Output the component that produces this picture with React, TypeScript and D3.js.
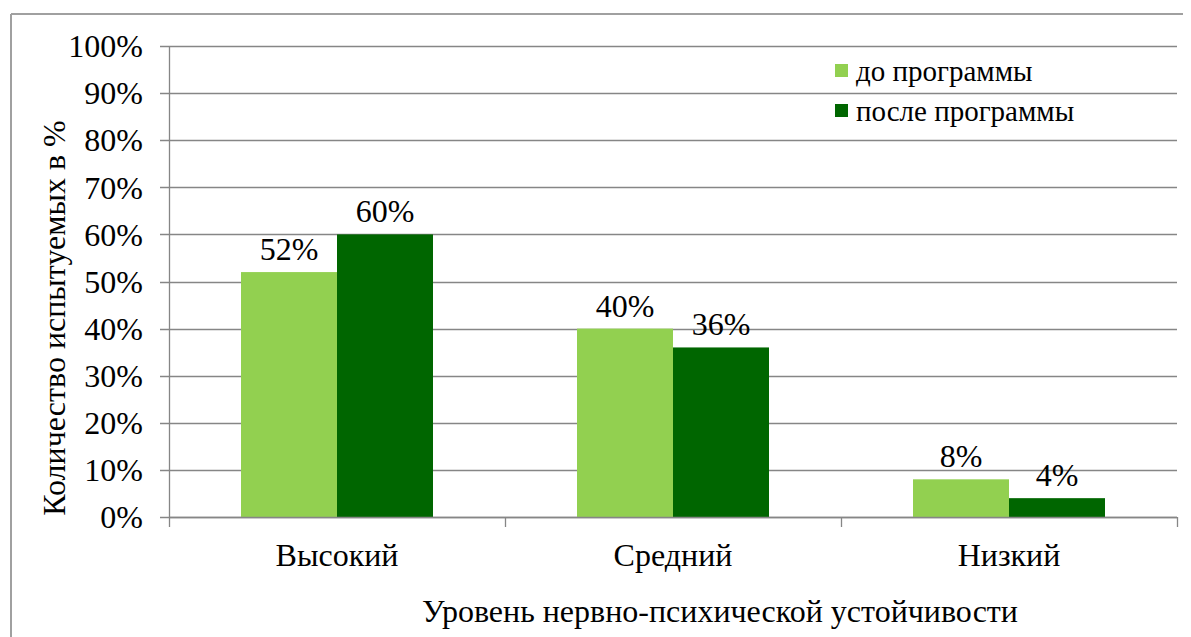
import React from "react";
import * as d3 from "d3";

const categories = ["Высокий", "Средний", "Низкий"];
const seriesNames = ["до программы", "после программы"];
const beforeValues = [52, 40, 8];
const afterValues = [60, 36, 4];
const yTicks = [0, 10, 20, 30, 40, 50, 60, 70, 80, 90, 100];
const colors = ["#92D050", "#006600"];
const yTitle = "Количество испытуемых в %";
const xTitle = "Уровень нервно-психической устойчивости";

const W = 1191;
const H = 637;

export default function App() {
  const left = 169, right = 1177, top = 46, bottom = 517;
  const x0 = d3.scaleBand<string>().domain(categories).range([left, right]).paddingInner(0).paddingOuter(0);
  const bw = x0.bandwidth();
  const inner = d3.scaleBand<string>().domain(seriesNames).range([0, bw]).paddingInner(0).paddingOuter(0.75);
  const y = d3.scaleLinear().domain([0, 100]).range([bottom, top]);
  const series = [beforeValues, afterValues];

  return (
    <svg width={W} height={H} fontFamily="serif" style={{ display: "block", margin: "-8px 0 0 -8px", background: "#fff" }}>
      <rect x={0} y={0} width={W} height={H} fill="#fff" />
      <line x1={11} y1={14} x2={W} y2={14} stroke="#a0a0a0" strokeWidth={2} />
      <line x1={11} y1={14} x2={11} y2={H} stroke="#a0a0a0" strokeWidth={2} />

      {yTicks.map((t) => (
        <g key={t}>
          <line x1={left - 9} x2={right} y1={Math.round(y(t)) + 0.5} y2={Math.round(y(t)) + 0.5} stroke="#868686" strokeWidth={1.3} />
          <text x={143} y={y(t)} dy="0.35em" textAnchor="end" fontSize={32} fill="#000">{t + "%"}</text>
        </g>
      ))}
      <line x1={left + 0.5} x2={left + 0.5} y1={top} y2={bottom} stroke="#868686" strokeWidth={1.3} />
      {[...categories.map((c) => x0(c)!), right].map((xv, i) => (
        <line key={i} x1={xv + 0.5} x2={xv + 0.5} y1={bottom} y2={bottom + 10} stroke="#868686" strokeWidth={1.3} />
      ))}

      {categories.map((c, ci) => (
        <g key={c}>
          {seriesNames.map((s, si) => {
            const v = series[si][ci];
            const bx = x0(c)! + inner(s)!;
            return (
              <g key={s}>
                <rect x={bx} y={y(v)} width={inner.bandwidth()} height={bottom - y(v)} fill={colors[si]} />
                <text x={bx + inner.bandwidth() / 2} y={y(v) - 12} textAnchor="middle" fontSize={32} fill="#000">{v + "%"}</text>
              </g>
            );
          })}
          <text x={x0(c)! + bw / 2} y={566} textAnchor="middle" fontSize={32} fill="#000">{c}</text>
        </g>
      ))}
      <line x1={left} x2={right} y1={bottom + 0.5} y2={bottom + 0.5} stroke="#868686" strokeWidth={1.3} />

      {seriesNames.map((s, i) => (
        <g key={s} transform={`translate(835, ${64 + i * 40})`}>
          <rect x={0} y={0} width={13} height={13} fill={colors[i]} />
          <text x={21} y={6.5} dy="0.35em" fontSize={29} fill="#000">{s}</text>
        </g>
      ))}

      <text x={720} y={622} textAnchor="middle" fontSize={32} fill="#000">{xTitle}</text>
      <text transform={`translate(65, 318) rotate(-90)`} textAnchor="middle" fontSize={32} fill="#000">{yTitle}</text>
    </svg>
  );
}
